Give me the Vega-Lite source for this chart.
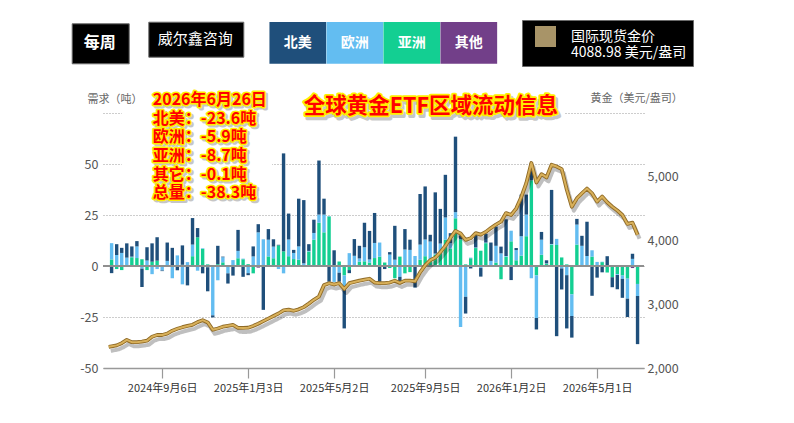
{
  "$schema": "https://vega.github.io/schema/vega-lite/v6.json",
  "width": 541,
  "height": 255,
  "autosize": {"type": "none"},
  "padding": {"left": 103, "top": 113, "right": 150, "bottom": 55},
  "background": "#ffffff",
  "config": {
    "view": {"stroke": null},
    "font": "Noto Sans CJK SC",
    "axis": {"labelFont": "Noto Sans CJK SC", "titleFont": "Noto Sans CJK SC"},
    "legend": {"labelFont": "Noto Sans CJK SC", "titleFont": "Noto Sans CJK SC"}
  },
  "data": {"values": [
    {"date": "2024-06-24T00:00", "gold": 2332},
    {"date": "2024-06-28T00:00", "北美": -3.5, "欧洲": 8, "亚洲": 3, "其他": 0.2, "gold": 2340},
    {"date": "2024-07-05T00:00", "北美": 5.3, "欧洲": 5.3, "亚洲": -1.5, "其他": 0.1, "gold": 2355},
    {"date": "2024-07-12T00:00", "北美": 2.5, "欧洲": 6.2, "亚洲": -2, "其他": 0.2, "gold": 2390},
    {"date": "2024-07-19T00:00", "北美": 7, "欧洲": 3.6, "亚洲": 0.5, "其他": -0.2, "gold": 2440},
    {"date": "2024-07-26T00:00", "北美": 5, "欧洲": 0.3, "亚洲": 4.2, "其他": 0.1, "gold": 2405},
    {"date": "2024-08-02T00:00", "北美": 2.6, "欧洲": 5.7, "亚洲": 3.7, "其他": 0.2, "gold": 2405},
    {"date": "2024-08-09T00:00", "北美": -9, "欧洲": -1, "亚洲": 3.3, "其他": -0.3, "gold": 2415},
    {"date": "2024-08-16T00:00", "北美": 6.5, "欧洲": 2.5, "亚洲": -2, "其他": 0.2, "gold": 2428},
    {"date": "2024-08-23T00:00", "北美": 9, "欧洲": -4, "亚洲": 2, "其他": 0.1, "gold": 2490},
    {"date": "2024-08-30T00:00", "北美": 11.5, "欧洲": -1.5, "亚洲": 2.4, "其他": 0.2, "gold": 2518},
    {"date": "2024-09-06T00:00", "北美": -0.3, "欧洲": -2, "亚洲": 0.3, "其他": -0.2, "gold": 2518},
    {"date": "2024-09-13T00:00", "北美": 9, "欧洲": 2, "亚洲": 0.4, "其他": 0.1, "gold": 2540},
    {"date": "2024-09-20T00:00", "北美": 8.5, "欧洲": -6, "亚洲": 0.3, "其他": 0.1, "gold": 2585},
    {"date": "2024-09-27T00:00", "北美": -2, "欧洲": 5, "亚洲": 0.2, "其他": -0.1, "gold": 2615},
    {"date": "2024-10-04T00:00", "北美": 9.5, "欧洲": -9, "亚洲": 0.5, "其他": 0.1, "gold": 2640},
    {"date": "2024-10-11T00:00", "北美": -9, "欧洲": 1.8, "亚洲": -0.5, "其他": 0.1, "gold": 2660},
    {"date": "2024-10-18T00:00", "北美": 13, "欧洲": 5.7, "亚洲": 4.6, "其他": 0.2, "gold": 2678},
    {"date": "2024-10-25T00:00", "北美": 4.5, "欧洲": -2.3, "亚洲": 14, "其他": 0.1, "gold": 2720},
    {"date": "2024-11-01T00:00", "北美": -3.6, "欧洲": 0.3, "亚洲": 8.3, "其他": 0.1, "gold": 2750},
    {"date": "2024-11-08T00:00", "北美": -11.8, "欧洲": -0.5, "亚洲": 0.8, "其他": -0.1, "gold": 2715},
    {"date": "2024-11-15T00:00", "北美": -1, "欧洲": -24, "亚洲": 0.5, "其他": -0.2, "gold": 2600},
    {"date": "2024-11-22T00:00", "北美": 9, "欧洲": -7, "亚洲": 0.8, "其他": 0.1, "gold": 2620},
    {"date": "2024-11-29T00:00", "北美": 0.3, "欧洲": 2.5, "亚洲": 1.7, "其他": 0.1, "gold": 2648},
    {"date": "2024-12-06T00:00", "北美": -5, "欧洲": -3.5, "亚洲": 0.4, "其他": -0.1, "gold": 2662},
    {"date": "2024-12-13T00:00", "北美": -4.7, "欧洲": 2.5, "亚洲": 0.3, "其他": 0.1, "gold": 2675},
    {"date": "2024-12-20T00:00", "北美": 10.3, "欧洲": 3.6, "亚洲": 3.7, "其他": 0.1, "gold": 2630},
    {"date": "2024-12-27T00:00", "北美": -5.2, "欧洲": 0.3, "亚洲": 3.3, "其他": -0.1, "gold": 2628},
    {"date": "2025-01-03T00:00", "北美": -1, "欧洲": -3.5, "亚洲": 0.8, "其他": 0.1, "gold": 2632},
    {"date": "2025-01-10T00:00", "北美": 4.9, "欧洲": 4.6, "亚洲": -3.6, "其他": 0.1, "gold": 2660},
    {"date": "2025-01-17T00:00", "北美": 4, "欧洲": 16, "亚洲": 0.5, "其他": -0.8, "gold": 2695},
    {"date": "2025-01-24T00:00", "北美": -21.2, "欧洲": 12.7, "亚洲": 0.4, "其他": -0.3, "gold": 2735},
    {"date": "2025-01-31T00:00", "北美": 5.2, "欧洲": 8.2, "亚洲": 4.6, "其他": 0.1, "gold": 2775},
    {"date": "2025-02-07T00:00", "北美": 3.6, "欧洲": 5.7, "亚洲": 3.7, "其他": 0.1, "gold": 2815},
    {"date": "2025-02-14T00:00", "北美": 0.3, "欧洲": -1.5, "亚洲": 10, "其他": 0.1, "gold": 2855},
    {"date": "2025-02-21T00:00", "北美": 48, "欧洲": -3.6, "亚洲": 7, "其他": 0.2, "gold": 2905},
    {"date": "2025-02-28T00:00", "北美": 12.7, "欧洲": 8.2, "亚洲": 4.6, "其他": 0.2, "gold": 2915},
    {"date": "2025-03-07T00:00", "北美": 1.5, "欧洲": 3, "亚洲": 3.3, "其他": 0.1, "gold": 2898},
    {"date": "2025-03-14T00:00", "北美": 23.4, "欧洲": 6.5, "亚洲": 2.9, "其他": 0.2, "gold": 2920},
    {"date": "2025-03-21T00:00", "北美": 31, "欧洲": 1, "亚洲": 0.3, "其他": -0.2, "gold": 2955},
    {"date": "2025-03-28T00:00", "北美": 3.3, "欧洲": 0.3, "亚洲": 7, "其他": 0.1, "gold": 3010},
    {"date": "2025-04-04T00:00", "北美": 6.5, "欧洲": 3.3, "亚洲": 12.7, "其他": 0.2, "gold": 3070},
    {"date": "2025-04-11T00:00", "北美": 26.5, "欧洲": 4, "亚洲": 21, "其他": 0.2, "gold": 3120},
    {"date": "2025-04-18T00:00", "北美": 7.8, "欧洲": 8.7, "亚洲": 16.3, "其他": 0.2, "gold": 3300},
    {"date": "2025-04-25T00:00", "北美": -7.7, "欧洲": 0.2, "亚洲": 24.2, "其他": 0.1, "gold": 3330},
    {"date": "2025-05-02T00:00", "北美": 7.4, "欧洲": -7.7, "亚洲": 0.3, "其他": -0.1, "gold": 3310},
    {"date": "2025-05-09T00:00", "北美": -4.4, "欧洲": -3.3, "亚洲": 2.1, "其他": 0.1, "gold": 3330},
    {"date": "2025-05-16T00:00", "北美": -20, "欧洲": -6, "亚洲": -4.5, "其他": -0.1, "gold": 3240},
    {"date": "2025-05-23T00:00", "北美": -1.5, "欧洲": 6.2, "亚洲": -2, "其他": 0.1, "gold": 3330},
    {"date": "2025-05-30T00:00", "北美": 8.2, "欧洲": 4.6, "亚洲": 0.3, "其他": 0.1, "gold": 3350},
    {"date": "2025-06-06T00:00", "北美": 6.2, "欧洲": 1.6, "亚洲": 2.1, "其他": -0.2, "gold": 3370},
    {"date": "2025-06-13T00:00", "北美": 12, "欧洲": 6.9, "亚洲": 2.1, "其他": 0.2, "gold": 3385},
    {"date": "2025-06-20T00:00", "北美": 14, "欧洲": 1.5, "亚洲": 1.7, "其他": -0.3, "gold": 3400},
    {"date": "2025-06-27T00:00", "北美": 14.7, "欧洲": 7.4, "亚洲": 3.7, "其他": 0.2, "gold": 3340},
    {"date": "2025-07-04T00:00", "北美": -7.7, "欧洲": 6.9, "亚洲": 4.5, "其他": 0.1, "gold": 3330},
    {"date": "2025-07-11T00:00", "北美": -1, "欧洲": -0.5, "亚洲": 1.6, "其他": 0.1, "gold": 3330},
    {"date": "2025-07-18T00:00", "北美": 1.2, "欧洲": 5.5, "亚洲": -1, "其他": 0.1, "gold": 3340},
    {"date": "2025-07-25T00:00", "北美": 16.6, "欧洲": 3, "亚洲": -6, "其他": 0.1, "gold": 3370},
    {"date": "2025-08-01T00:00", "北美": -2.5, "欧洲": -5.2, "亚洲": 4.6, "其他": -0.1, "gold": 3335},
    {"date": "2025-08-08T00:00", "北美": 10, "欧洲": 8, "亚洲": -3.6, "其他": 0.1, "gold": 3370},
    {"date": "2025-08-15T00:00", "北美": 5, "欧洲": 7.8, "亚洲": -3, "其他": 0.1, "gold": 3370},
    {"date": "2025-08-22T00:00", "北美": -10.5, "欧洲": 4.6, "亚洲": 0.3, "其他": -0.1, "gold": 3360},
    {"date": "2025-08-29T00:00", "北美": 24.8, "欧洲": 7.4, "亚洲": 2.9, "其他": 0.2, "gold": 3500},
    {"date": "2025-09-05T00:00", "北美": 26, "欧洲": 8.2, "亚洲": 4.6, "其他": 0.2, "gold": 3610},
    {"date": "2025-09-12T00:00", "北美": 3.3, "欧洲": 9.5, "亚洲": 2.4, "其他": 0.1, "gold": 3690},
    {"date": "2025-09-19T00:00", "北美": 30, "欧洲": 0.5, "亚洲": 5.4, "其他": 0.2, "gold": 3730},
    {"date": "2025-09-26T00:00", "北美": 17, "欧洲": 4.6, "亚洲": 6.2, "其他": 0.2, "gold": 3815},
    {"date": "2025-10-03T00:00", "北美": 20.9, "欧洲": 10.9, "亚洲": 12.7, "其他": 0.2, "gold": 3915},
    {"date": "2025-10-10T00:00", "北美": 4.9, "欧洲": 2.6, "亚洲": 8.5, "其他": 0.1, "gold": 4040},
    {"date": "2025-10-17T00:00", "北美": 37, "欧洲": 3, "亚洲": 23.2, "其他": 0.2, "gold": 4150},
    {"date": "2025-10-24T00:00", "北美": 2, "欧洲": -29.7, "亚洲": 13, "其他": -0.2, "gold": 4110},
    {"date": "2025-10-31T00:00", "北美": -8.2, "欧洲": -15, "亚洲": 0.8, "其他": -0.1, "gold": 4010},
    {"date": "2025-11-07T00:00", "北美": -1.2, "欧洲": 0.3, "亚洲": 3.7, "其他": 0.1, "gold": 4035},
    {"date": "2025-11-14T00:00", "北美": 6.5, "欧洲": 0.3, "亚洲": 8.7, "其他": 0.1, "gold": 4115},
    {"date": "2025-11-21T00:00", "北美": -4.2, "欧洲": -1, "亚洲": 7.4, "其他": 0.1, "gold": 4092},
    {"date": "2025-11-28T00:00", "北美": 4.4, "欧洲": 0.3, "亚洲": 11.1, "其他": 0.1, "gold": 4135},
    {"date": "2025-12-05T00:00", "北美": 9, "欧洲": 2.1, "亚洲": 0.3, "其他": 0.1, "gold": 4195},
    {"date": "2025-12-12T00:00", "北美": 9.5, "欧洲": 8.2, "亚洲": 1.6, "其他": 0.1, "gold": 4250},
    {"date": "2025-12-19T00:00", "北美": 3.3, "欧洲": 6.2, "亚洲": -6.4, "其他": -0.1, "gold": 4295},
    {"date": "2025-12-26T00:00", "北美": 18, "欧洲": 0.3, "亚洲": 4.5, "其他": 0.1, "gold": 4430},
    {"date": "2026-01-02T00:00", "北美": -6.9, "欧洲": 5.2, "亚洲": 12, "其他": 0.1, "gold": 4400},
    {"date": "2026-01-09T00:00", "北美": 1, "欧洲": 5, "亚洲": 2.7, "其他": 0.1, "gold": 4500},
    {"date": "2026-01-16T00:00", "北美": 20.4, "欧洲": 9.5, "亚洲": 4.9, "其他": 0.2, "gold": 4680},
    {"date": "2026-01-23T00:00", "北美": 9.8, "欧洲": 10.6, "亚洲": 14.4, "其他": 0.2, "gold": 4900},
    {"date": "2026-01-30T00:00", "北美": 8.5, "欧洲": -6, "亚洲": 41.8, "其他": 0.2, "gold": 5215},
    {"date": "2026-02-06T00:00", "北美": -5.6, "欧洲": -20.9, "亚洲": -4.4, "其他": -0.2, "gold": 4910},
    {"date": "2026-02-13T00:00", "北美": 3.8, "欧洲": 7.4, "亚洲": 5.4, "其他": 0.1, "gold": 5040},
    {"date": "2026-02-20T00:00", "北美": 1.5, "欧洲": 0.2, "亚洲": 1, "其他": 0.1, "gold": 4990},
    {"date": "2026-02-27T00:00", "北美": 26.5, "欧洲": 0.3, "亚洲": 10.3, "其他": 0.2, "gold": 5188},
    {"date": "2026-03-06T00:00", "北美": -34.2, "欧洲": 3, "亚洲": 10.3, "其他": -0.2, "gold": 5160},
    {"date": "2026-03-13T00:00", "北美": -10.3, "欧洲": -1.1, "亚洲": 4.2, "其他": -0.1, "gold": 5120},
    {"date": "2026-03-20T00:00", "北美": -26.1, "欧洲": -4.4, "亚洲": 0.8, "其他": -0.1, "gold": 4800},
    {"date": "2026-03-27T00:00", "北美": -10.6, "欧洲": -10.6, "亚洲": -13.4, "其他": -0.5, "gold": 4530},
    {"date": "2026-04-03T00:00", "北美": 2.8, "欧洲": 9.8, "亚洲": 10.3, "其他": 0.2, "gold": 4660},
    {"date": "2026-04-10T00:00", "北美": 4.9, "欧洲": 9.5, "亚洲": 0.3, "其他": 0.1, "gold": 4740},
    {"date": "2026-04-17T00:00", "北美": 16.8, "欧洲": 4.6, "亚洲": 0.3, "其他": -0.2, "gold": 4815},
    {"date": "2026-04-24T00:00", "北美": -14.5, "欧洲": 3.1, "亚洲": 4.6, "其他": -0.1, "gold": 4740},
    {"date": "2026-05-01T00:00", "北美": -5.6, "欧洲": 1.8, "亚洲": 0.2, "其他": -0.1, "gold": 4610},
    {"date": "2026-05-08T00:00", "北美": -3.1, "欧洲": 0.2, "亚洲": 1.8, "其他": 0.1, "gold": 4690},
    {"date": "2026-05-15T00:00", "北美": 4.6, "欧洲": 0.2, "亚洲": -3.1, "其他": -0.1, "gold": 4600},
    {"date": "2026-05-22T00:00", "北美": -4.9, "欧洲": 0.5, "亚洲": -5.2, "其他": -0.3, "gold": 4530},
    {"date": "2026-05-29T00:00", "北美": -7, "欧洲": -0.4, "亚洲": -3.9, "其他": -0.1, "gold": 4470},
    {"date": "2026-06-05T00:00", "北美": -9.3, "欧洲": -1.6, "亚洲": -4.4, "其他": -0.3, "gold": 4400},
    {"date": "2026-06-12T00:00", "北美": -9, "欧洲": -9.8, "亚洲": -6, "其他": -0.2, "gold": 4260},
    {"date": "2026-06-19T00:00", "北美": 2.5, "欧洲": 3.3, "亚洲": 0.2, "其他": -1, "gold": 4280},
    {"date": "2026-06-26T00:00", "北美": -23.6, "欧洲": -5.9, "亚洲": -8.7, "其他": -0.1, "gold": 4088.98}
  ]},
  "layer": [
    {
      "layer": [
        {
          "data": {"values": [{}]},
          "mark": {"type": "rect", "fill": "#ffffff"},
          "encoding": {
            "x": {"datum": {"year": 2024, "month": 7, "date": 12}, "type": "temporal", "scale": {"domain": [{"year": 2024, "month": 6, "date": 23}, {"year": 2026, "month": 6, "date": 28}], "nice": false}},
            "x2": {"datum": {"year": 2025, "month": 2, "date": 5}},
            "y": {"datum": 77, "type": "quantitative", "scale": {"domain": [-50, 75], "nice": false}},
            "y2": {"datum": 30}
          }
        },
        {
          "data": {"values": [{}]},
          "mark": {"type": "rect", "fill": "#ffffff"},
          "encoding": {
            "x": {"datum": {"year": 2025, "month": 2, "date": 5}, "type": "temporal", "scale": {"domain": [{"year": 2024, "month": 6, "date": 23}, {"year": 2026, "month": 6, "date": 28}], "nice": false}},
            "x2": {"datum": {"year": 2026, "month": 3, "date": 17}},
            "y": {"datum": 86, "type": "quantitative", "scale": {"domain": [-50, 75], "nice": false}},
            "y2": {"datum": 70.6}
          }
        },
        {
          "transform": [
            {"fold": ["其他", "亚洲", "欧洲", "北美"], "as": ["region", "flow"]},
            {"window": [{"op": "row_number", "as": "stackorder"}], "groupby": ["date"]}
          ],
          "mark": {"type": "bar", "width": 3.4},
          "encoding": {
            "x": {
              "field": "date", "type": "temporal",
              "scale": {"domain": [{"year": 2024, "month": 6, "date": 23}, {"year": 2026, "month": 6, "date": 28}], "nice": false},
              "axis": {
                "values": [{"year": 2024, "month": 9, "date": 6}, {"year": 2025, "month": 1, "date": 3}, {"year": 2025, "month": 5, "date": 2}, {"year": 2025, "month": 9, "date": 5}, {"year": 2026, "month": 1, "date": 2}, {"year": 2026, "month": 5, "date": 1}],
                "format": "%Y年%-m月%-d日", "title": null, "grid": false,
                "domainColor": "#999999", "domainWidth": 1.5, "tickColor": "#999999", "tickSize": 10, "tickWidth": 1.2,
                "labelPadding": 4, "labelFontSize": 11, "labelColor": "#333333", "labelOverlap": false
              }
            },
            "y": {
              "field": "flow", "type": "quantitative", "stack": "zero",
              "scale": {"domain": [-50, 75], "nice": false},
              "axis": {
                "orient": "left", "values": [-50, -25, 0, 25, 50, 75],
                "labelExpr": "datum.value == 75 ? '' : '' + datum.value",
                "grid": true, "gridDash": [1, 2], "gridColor": "#9a9a9a", "gridWidth": 1,
                "domain": false, "ticks": false, "labelPadding": 5, "labelColor": "#555555", "labelFontSize": 12.5,
                "title": "需求（吨）", "titleAngle": 0, "titleAlign": "left", "titleBaseline": "middle",
                "titleX": -16, "titleY": -14, "titleFontSize": 11, "titleFontWeight": "normal", "titleColor": "#666666"
              }
            },
            "color": {
              "field": "region", "type": "nominal",
              "scale": {"domain": ["北美", "欧洲", "亚洲", "其他"], "range": ["#1f4f7b", "#63bdf1", "#13cf92", "#723f89"]},
              "legend": {
                "orient": "none", "legendX": 166.3, "legendY": -98.95, "direction": "horizontal", "columns": 4,
                "columnPadding": 0, "rowPadding": 0, "padding": 0, "offset": 0, "title": null,
                "symbolType": "M-1,-0.7355H1V0.7355H-1Z", "symbolSize": 3215, "symbolStrokeWidth": 0, "symbolOpacity": 1,
                "labelOffset": -28.5, "labelAlign": "center", "labelColor": "#ffffff", "labelFontSize": 14, "labelFontWeight": "bold"
              }
            },
            "order": {"field": "stackorder", "type": "quantitative"}
          }
        },
        {
          "data": {"values": [{}]},
          "mark": {"type": "rule", "color": "#8f8f8f", "strokeWidth": 2},
          "encoding": {
            "y": {"datum": 0, "type": "quantitative", "scale": {"domain": [-50, 75], "nice": false}},
            "strokeDash": {
              "datum": "每周", "type": "nominal", "scale": {"range": [[1, 0]]},
              "legend": {
                "orient": "none", "legendX": -31.3, "legendY": -89.7, "title": null,
                "fillColor": "#000000", "strokeColor": "#6a6a6a", "padding": 12,
                "symbolSize": 0.01, "symbolStrokeWidth": 0.01, "symbolOpacity": 0, "labelOffset": -16,
                "labelColor": "#ffffff", "labelFontSize": 16, "labelFontWeight": "bold"
              }
            }
          }
        },
        {
          "data": {"values": [{}]},
          "mark": {"type": "text", "text": ["2026年6月26日", "北美：-23.6吨", "欧洲：-5.9吨", "亚洲：-8.7吨", "其它：-0.1吨", "总量：-38.3吨"], "align": "left", "baseline": "top", "lineHeight": 18.7, "fontSize": 16, "fontWeight": "bold", "font": "Noto Sans CJK SC", "fill": "#000000", "opacity": 0.22, "stroke": "#000000", "strokeWidth": 3, "strokeJoin": "round", "dx": 2, "dy": 2},
          "encoding": {
            "x": {"datum": {"year": 2024, "month": 8, "date": 24}, "type": "temporal", "scale": {"domain": [{"year": 2024, "month": 6, "date": 23}, {"year": 2026, "month": 6, "date": 28}], "nice": false}},
            "y": {"datum": 85.3, "type": "quantitative", "scale": {"domain": [-50, 75], "nice": false}}
          }
        },
        {
          "data": {"values": [{}]},
          "mark": {"type": "text", "text": ["2026年6月26日", "北美：-23.6吨", "欧洲：-5.9吨", "亚洲：-8.7吨", "其它：-0.1吨", "总量：-38.3吨"], "align": "left", "baseline": "top", "lineHeight": 18.7, "fontSize": 16, "fontWeight": "bold", "font": "Noto Sans CJK SC", "fill": "#ffee00", "stroke": "#ffee00", "strokeWidth": 3, "strokeJoin": "round"},
          "encoding": {
            "x": {"datum": {"year": 2024, "month": 8, "date": 24}, "type": "temporal", "scale": {"domain": [{"year": 2024, "month": 6, "date": 23}, {"year": 2026, "month": 6, "date": 28}], "nice": false}},
            "y": {"datum": 85.3, "type": "quantitative", "scale": {"domain": [-50, 75], "nice": false}}
          }
        },
        {
          "data": {"values": [{}]},
          "mark": {"type": "text", "text": ["2026年6月26日", "北美：-23.6吨", "欧洲：-5.9吨", "亚洲：-8.7吨", "其它：-0.1吨", "总量：-38.3吨"], "align": "left", "baseline": "top", "lineHeight": 18.7, "fontSize": 16, "fontWeight": "bold", "font": "Noto Sans CJK SC", "fill": "#ff0000"},
          "encoding": {
            "x": {"datum": {"year": 2024, "month": 8, "date": 24}, "type": "temporal", "scale": {"domain": [{"year": 2024, "month": 6, "date": 23}, {"year": 2026, "month": 6, "date": 28}], "nice": false}},
            "y": {"datum": 85.3, "type": "quantitative", "scale": {"domain": [-50, 75], "nice": false}}
          }
        },
        {
          "data": {"values": [{}]},
          "mark": {"type": "text", "text": "全球黄金ETF区域流动信息", "align": "center", "baseline": "middle", "fontSize": 21.5, "fontWeight": "bold", "font": "Noto Sans CJK SC", "fill": "#000000", "opacity": 0.22, "stroke": "#000000", "strokeWidth": 4, "strokeJoin": "round", "dx": 2, "dy": 3},
          "encoding": {
            "x": {"datum": {"year": 2025, "month": 9, "date": 13}, "type": "temporal", "scale": {"domain": [{"year": 2024, "month": 6, "date": 23}, {"year": 2026, "month": 6, "date": 28}], "nice": false}},
            "y": {"datum": 78, "type": "quantitative", "scale": {"domain": [-50, 75], "nice": false}}
          }
        },
        {
          "data": {"values": [{}]},
          "mark": {"type": "text", "text": "全球黄金ETF区域流动信息", "align": "center", "baseline": "middle", "fontSize": 21.5, "fontWeight": "bold", "font": "Noto Sans CJK SC", "fill": "#ffee00", "stroke": "#ffee00", "strokeWidth": 3.5, "strokeJoin": "round"},
          "encoding": {
            "x": {"datum": {"year": 2025, "month": 9, "date": 13}, "type": "temporal", "scale": {"domain": [{"year": 2024, "month": 6, "date": 23}, {"year": 2026, "month": 6, "date": 28}], "nice": false}},
            "y": {"datum": 78, "type": "quantitative", "scale": {"domain": [-50, 75], "nice": false}}
          }
        },
        {
          "data": {"values": [{}]},
          "mark": {"type": "text", "text": "全球黄金ETF区域流动信息", "align": "center", "baseline": "middle", "fontSize": 21.5, "fontWeight": "bold", "font": "Noto Sans CJK SC", "fill": "#ff0000"},
          "encoding": {
            "x": {"datum": {"year": 2025, "month": 9, "date": 13}, "type": "temporal", "scale": {"domain": [{"year": 2024, "month": 6, "date": 23}, {"year": 2026, "month": 6, "date": 28}], "nice": false}},
            "y": {"datum": 78, "type": "quantitative", "scale": {"domain": [-50, 75], "nice": false}}
          }
        }
      ]
    },
    {
      "encoding": {
        "x": {"field": "date", "type": "temporal", "scale": {"domain": [{"year": 2024, "month": 6, "date": 23}, {"year": 2026, "month": 6, "date": 28}], "nice": false}},
        "y": {
          "field": "gold", "type": "quantitative",
          "scale": {"domain": [2000, 6000], "nice": false, "zero": false},
          "axis": {
            "orient": "right", "values": [2000, 3000, 4000, 5000], "format": ",.0f",
            "grid": false, "domain": false, "ticks": false, "labelPadding": 3, "labelColor": "#555555", "labelFontSize": 12.5,
            "title": "黄金（美元/盎司）", "titleAngle": 0, "titleAlign": "left", "titleBaseline": "middle",
            "titleX": -54, "titleY": -15, "titleFontSize": 11, "titleFontWeight": "normal", "titleColor": "#666666"
          }
        }
      },
      "layer": [
        {
          "mark": {"type": "line", "color": "#000000", "opacity": 0.25, "strokeWidth": 4, "xOffset": 2, "yOffset": 4, "strokeJoin": "round"},
          "encoding": {
            "strokeDash": {
              "datum": "威尔鑫咨询", "type": "nominal", "scale": {"range": [[1, 0]]},
              "legend": {
                "orient": "none", "legendX": 45.3, "legendY": -91.3, "title": null,
                "fillColor": "#000000", "strokeColor": "#6a6a6a", "padding": 9.5,
                "symbolSize": 0.01, "symbolStrokeWidth": 0.01, "symbolOpacity": 0, "labelOffset": -15,
                "labelColor": "#ffffff", "labelFontSize": 15, "labelFontWeight": "normal"
              }
            }
          }
        },
        {
          "mark": {"type": "line", "color": "#8f6a26", "strokeWidth": 3.8, "strokeJoin": "round"}
        },
        {
          "mark": {"type": "line", "strokeWidth": 2, "strokeJoin": "round"},
          "encoding": {
            "stroke": {
              "datum": "国际现货金价", "type": "nominal", "scale": {"range": ["#d8b05a"]},
              "legend": {
                "orient": "none", "legendX": 419, "legendY": -93, "title": null,
                "fillColor": "#000000", "strokeColor": "#6a6a6a", "padding": 6,
                "symbolType": "square", "symbolSize": 441, "symbolFillColor": "#a89468", "symbolStrokeWidth": 0, "symbolOpacity": 1,
                "symbolOffset": 7, "labelOffset": 15, "labelExpr": "['国际现货金价', '4088.98 美元/盎司']",
                "labelColor": "#ffffff", "labelFontSize": 14
              }
            }
          }
        }
      ]
    }
  ],
  "resolve": {"scale": {"y": "independent", "strokeDash": "independent"}}
}
